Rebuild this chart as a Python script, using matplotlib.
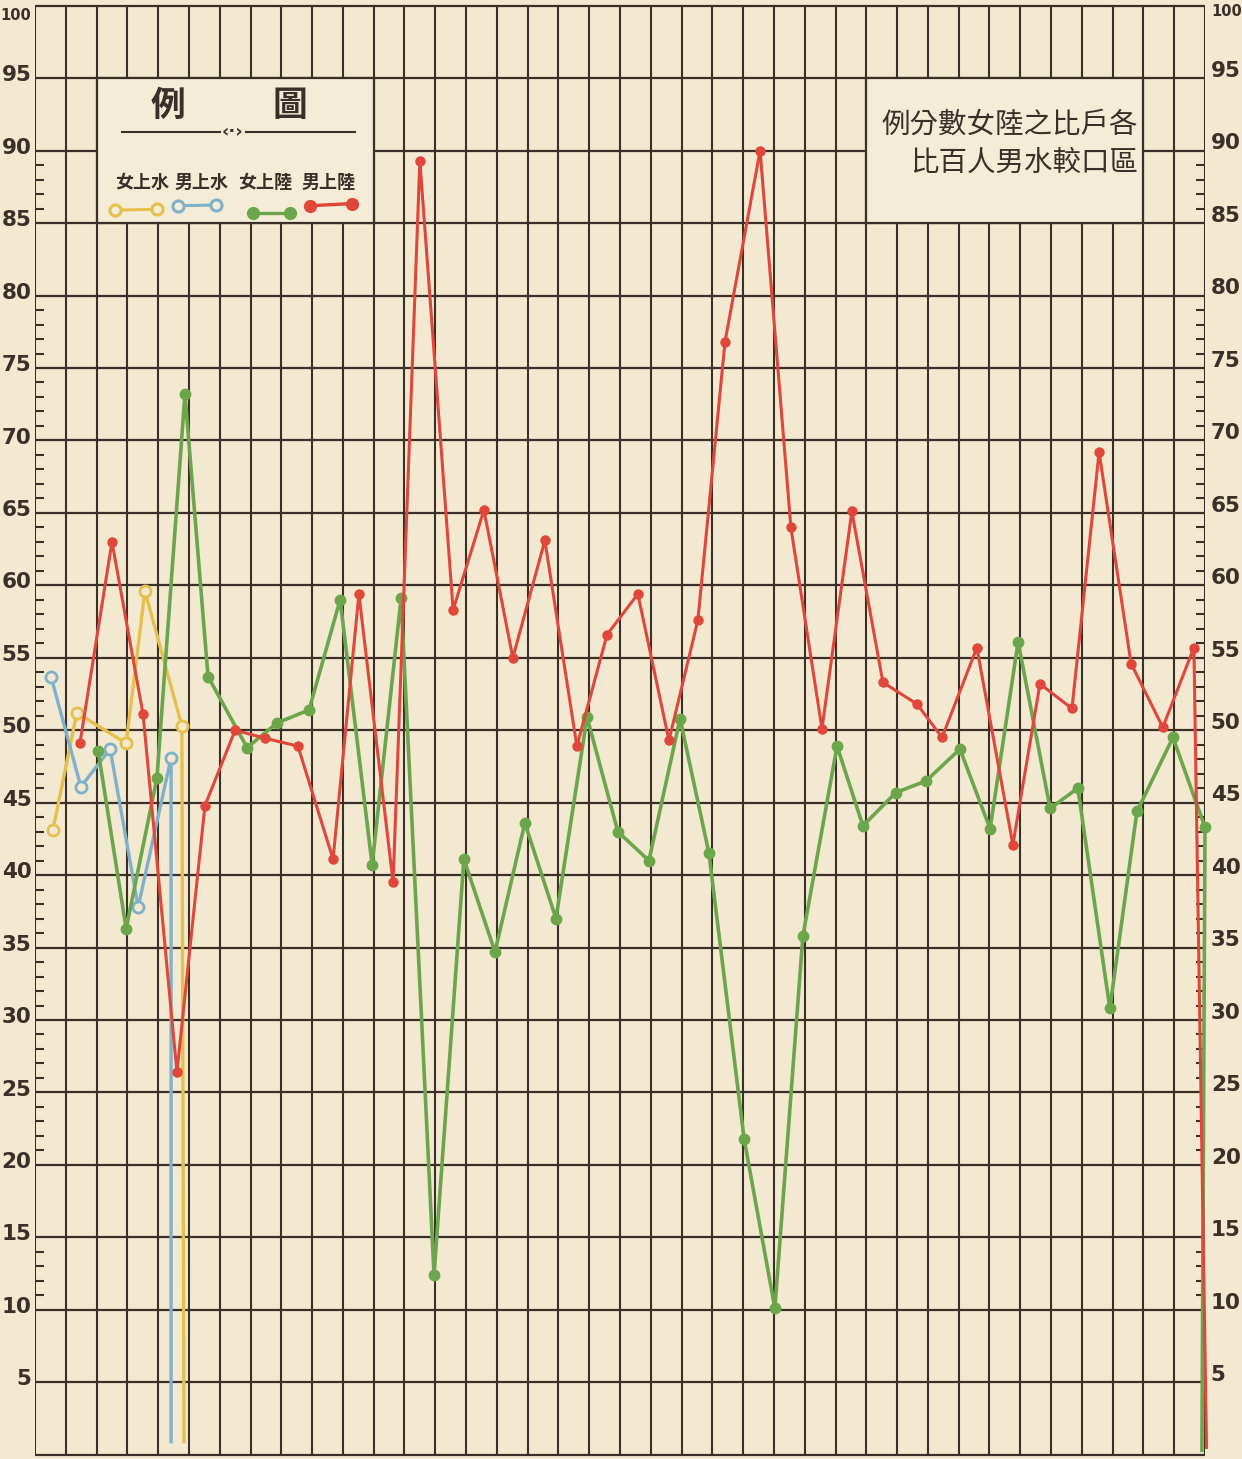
import numpy as np
import matplotlib as mpl
import matplotlib.pyplot as plt
from matplotlib.patches import Rectangle

mpl.rcParams.update({
    'font.family': ['Noto Sans CJK TC', 'DejaVu Sans'],
})

PAPER = '#f3e8d0'
BOXFILL = '#f5ecd7'
INK = '#3b3029'
RED = '#e0473a'
GREEN = '#6ca64c'
BLUE = '#80b1cb'
YELLOW = '#e5c04a'

###################################
# Data
###################################

# 男上陸 (red)
red_x = [1.46, 2.50, 3.51, 4.61, 5.52, 6.50, 7.47, 8.54, 9.68, 10.52,
         11.63, 12.50, 13.58, 14.58, 15.52, 16.56, 17.60, 18.58, 19.58, 20.59,
         21.53, 22.41, 23.55, 24.55, 25.56, 26.53, 27.54, 28.65, 29.46, 30.59,
         31.76, 32.64, 33.68, 34.56, 35.60, 36.63, 37.64, 38.05]
red_y = [49.1, 63.0, 51.1, 26.4, 44.8, 50.0, 49.45, 48.9, 41.1, 59.4,
         39.5, 89.3, 58.3, 65.2, 55.0, 63.1, 48.9, 56.6, 59.4, 49.3,
         57.6, 76.8, 90.0, 64.0, 50.1, 65.1, 53.3, 51.8, 49.5, 55.7,
         42.1, 53.2, 51.5, 69.2, 54.6, 50.2, 55.7, 0.5]

# 女上陸 (green)
green_x = [2.05, 2.96, 3.96, 4.87, 5.62, 6.89, 7.86, 8.90, 9.91, 10.95,
           11.89, 12.96, 13.93, 14.94, 15.91, 16.92, 17.93, 18.93, 19.94, 20.95,
           21.89, 23.03, 24.03, 24.94, 26.05, 26.89, 27.96, 28.94, 30.04, 31.02,
           31.93, 32.97, 33.87, 34.91, 35.79, 36.96, 38.0, 37.9]
green_y = [48.6, 36.3, 46.7, 73.2, 53.7, 48.8, 50.5, 51.4, 59.0, 40.7,
           59.1, 12.4, 41.1, 34.7, 43.6, 37.0, 50.9, 43.0, 41.0, 50.8,
           41.5, 21.8, 10.1, 35.8, 48.9, 43.4, 45.7, 46.5, 48.7, 43.2,
           56.1, 44.6, 46.0, 30.8, 44.4, 49.5, 43.3, 0.3]

# 男上水 (blue)
blue_x = [0.52, 1.49, 2.44, 3.35, 4.42, 4.42]
blue_y = [53.7, 46.1, 48.7, 37.8, 48.1, 0.9]

# 女上水 (yellow)
yellow_x = [0.58, 1.36, 2.96, 3.57, 4.77, 4.84]
yellow_y = [43.1, 51.2, 49.1, 59.6, 50.3, 0.9]

y_labels = list(range(5, 101, 5))
n_cols = 38

legend_labels = ['女上水', '男上水', '女上陸', '男上陸']
title_line1 = '例分數女陸之比戶各'
title_line2 = '比百人男水較口區'

###################################
# Figure
###################################

fig = plt.figure(figsize=(12.42, 14.59), dpi=100, facecolor=PAPER)
ax = fig.add_axes([35 / 1242, 0, 1170 / 1242, 1])
ax.set_facecolor(PAPER)
ax.set_xlim(0, n_cols)
ax.set_ylim(-0.3, 100.4)
ax.axis('off')

# grid
ax.vlines(range(n_cols + 1), 0, 100, color=INK, lw=1.5, zorder=1)
ax.hlines(range(0, 101, 5), 0, n_cols, color=INK, lw=1.6, zorder=1)

# small ticks along both edges
tk = 0.28
minor = [v for v in list(range(11, 15)) + list(range(21, 80)) + list(range(86, 90)) if v % 5]
ax.hlines(minor, 0, tk, color=INK, lw=1.5, zorder=1)
ax.hlines(minor, n_cols - tk, n_cols, color=INK, lw=1.5, zorder=1)

# tick labels (the top one is smaller and nudged down so it stays inside the picture)
ytr = ax.get_yaxis_transform()
for v in y_labels:
    yv = v - 0.9 if v == 100 else v
    fs = 10.5 if v == 100 else 15.5
    ax.text(-0.003, yv + 0.2, str(v), transform=ytr, ha='right', va='center',
            fontsize=fs, color=INK, family='DejaVu Sans', fontweight='semibold',
            clip_on=False)
    ax.text(1.005, yv + 0.5, str(v), transform=ytr, ha='left', va='center',
            fontsize=fs, color=INK, family='DejaVu Sans', fontweight='semibold',
            clip_on=False)

# legend box and title box
ax.add_patch(Rectangle((2, 85), 9, 10, facecolor=BOXFILL, edgecolor=INK, lw=1.6, zorder=2))
ax.add_patch(Rectangle((27, 85), 9, 10, facecolor=BOXFILL, edgecolor=INK, lw=1.6, zorder=2))

ax.text(4.32, 93.1, '例', ha='center', va='center', fontsize=25, color=INK,
        fontweight='bold', zorder=3)
ax.text(8.28, 93.1, '圖', ha='center', va='center', fontsize=25, color=INK,
        fontweight='bold', zorder=3)
ax.plot([2.83, 6.0], [91.3, 91.3], color=INK, lw=1.5, zorder=3)
ax.plot([6.85, 10.39], [91.3, 91.3], color=INK, lw=1.5, zorder=3)
ax.text(6.43, 91.3, '‹·›', ha='center', va='center', fontsize=13, color=INK,
        family='DejaVu Sans', fontweight='bold', zorder=3)

for lab, cx in zip(legend_labels, [3.47, 5.42, 7.47, 9.52]):
    ax.text(cx, 87.8, lab, ha='center', va='center', fontsize=13, color=INK,
            fontweight='bold', zorder=3)

hollow = dict(marker='o', markersize=8, markerfacecolor=BOXFILL, markeredgewidth=2.2)
solid = dict(marker='o', markersize=8.5)
ax.plot([2.6, 3.96], [85.9, 85.95], color=YELLOW, lw=2.2, markeredgecolor=YELLOW, zorder=3, **hollow)
ax.plot([4.64, 5.88], [86.2, 86.25], color=BLUE, lw=2.2, markeredgecolor=BLUE, zorder=3, **hollow)
ax.plot([7.08, 8.28], [85.7, 85.7], color=GREEN, lw=2.4, zorder=3, **solid)
ax.plot([8.93, 10.3], [86.2, 86.35], color=RED, lw=2.4, zorder=3, **solid)

ax.text(35.82, 91.8, title_line1, ha='right', va='center', fontsize=20.5,
        color=INK, fontweight='medium', zorder=3)
ax.text(35.82, 89.15, title_line2, ha='right', va='center', fontsize=20.5,
        color=INK, fontweight='medium', zorder=3)

# series
ax.plot(yellow_x, yellow_y, color=YELLOW, lw=2.4, marker='o', markersize=8,
        markerfacecolor=PAPER, markeredgecolor=YELLOW, markeredgewidth=2,
        markevery=slice(0, -1), zorder=4, clip_on=False)
ax.plot(blue_x, blue_y, color=BLUE, lw=2.4, marker='o', markersize=8,
        markerfacecolor=PAPER, markeredgecolor=BLUE, markeredgewidth=2,
        markevery=slice(0, -1), zorder=4, clip_on=False)
ax.plot(green_x, green_y, color=GREEN, lw=2.6, marker='o', markersize=7.5,
        markevery=slice(0, -1), zorder=5, clip_on=False)
ax.plot(red_x, red_y, color=RED, lw=2.2, marker='o', markersize=6.5,
        markevery=slice(0, -1), zorder=6, clip_on=False)

plt.savefig('out.png', dpi=100, facecolor=PAPER)
plt.close()
